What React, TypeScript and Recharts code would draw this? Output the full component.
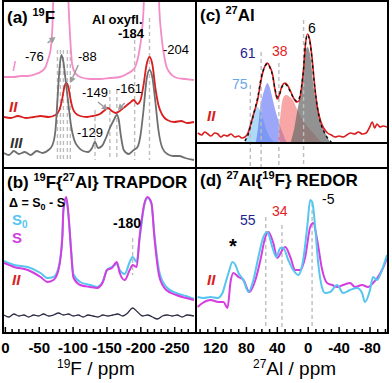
import React from "react";
import { ComposedChart, Line, Area, XAxis, YAxis, ReferenceLine } from "recharts";

const FONT = '"Liberation Sans", Arial, sans-serif';

// ---------- (a) 19F MAS : [ppm, intensity] ----------
const specAI = [
  [2, 91], [-12.6, 91], [-22.8, 92], [-33, 92], [-44.8, 94], [-52, 96], [-59.4, 101], [-63.7, 110],
  [-66.7, 118], [-69.6, 143], [-71, 175], [-74, 260], [-81.3, 320], [-88.6, 260], [-93, 168],
  [-95.9, 128], [-98.8, 103], [-103.2, 95], [-110.5, 91], [-125.1, 89], [-139.7, 89], [-154.3, 90],
  [-168.9, 91], [-179.2, 94], [-186.5, 97], [-192.3, 102], [-196.7, 113], [-201.1, 133], [-204, 158],
  [-207, 220], [-215.7, 280], [-224.5, 220], [-227.4, 158], [-230.3, 133], [-234.7, 111], [-240, 98],
  [-253.7, 90], [-265.4, 89], [-278.5, 88],
];
const specAII = [
  [2, 51], [-8.2, 50], [-18.5, 52], [-30.1, 50], [-41.8, 51], [-52, 52], [-63.7, 51], [-74, 53],
  [-79.8, 58], [-84.2, 70], [-87.1, 81], [-90, 85], [-93, 81], [-95.9, 70], [-98.8, 61], [-103.2, 55],
  [-110.5, 52], [-120.7, 51], [-129.5, 52], [-139.7, 54], [-147, 58], [-151.4, 60], [-157.2, 57],
  [-163.1, 55], [-168.9, 57], [-176.2, 61], [-183.6, 65], [-189.4, 68], [-195.2, 64], [-199.6, 68],
  [-204, 83], [-208.4, 103], [-212.8, 111], [-217.2, 103], [-221.5, 80], [-226, 63], [-231.8, 53],
  [-239.1, 48], [-249.3, 46], [-259.5, 47], [-268.3, 45], [-278.5, 46],
];
const specAIII = [
  [2, 15], [-5.3, 13], [-12.6, 17], [-19.9, 14], [-28.7, 16], [-37.4, 13], [-46.2, 17], [-55, 15],
  [-63.7, 18], [-69.6, 23], [-74, 38], [-76.9, 68], [-79.8, 98], [-82.7, 113], [-85.7, 106], [-88.6, 90],
  [-91.5, 73], [-94.4, 56], [-97.3, 41], [-101.7, 28], [-107.6, 21], [-115, 17], [-122.2, 16], [-128, 20],
  [-132.4, 26], [-136.8, 20], [-142.6, 22], [-148.5, 30], [-154.3, 40], [-160.2, 48], [-164.6, 53],
  [-167.5, 48], [-170.4, 33], [-174.8, 18], [-182.1, 14], [-189.4, 18], [-195.2, 21], [-199.6, 33],
  [-204, 58], [-208.4, 88], [-212.8, 98], [-217.2, 90], [-221.5, 66], [-226, 38], [-231.8, 20],
  [-239.1, 14], [-247.8, 12], [-256.6, 12], [-265.4, 10], [-278.5, 8],
];
// [ppm, top, bottom]
const dashA = [
  [-76.9, 118, 8], [-81.3, 118, 8], [-85.7, 118, 8], [-91.5, 118, 8], [-95.9, 118, 8],
  [-132.4, 58, 8], [-154.3, 78, 8], [-164.6, 78, 8], [-190.9, 128, 8], [-212.8, 150, 8],
];
// [ppm1, v1, ppm2, v2]
const arrowsA = [
  [-62.3, 125, -74, 131],
  [-107.6, 103, -95.9, 85],
  [-136.8, 66, -151.4, 58],
  [-176.2, 65, -166, 58],
];

// ---------- (b) 19F{27Al} TRAPDOR ----------
const specBS0 = [
  [2, 71], [-12.6, 67], [-33, 65], [-52, 59], [-62.3, 54], [-71, 55], [-78.4, 64], [-84.2, 97],
  [-85.7, 122], [-90, 132], [-93, 117], [-97.3, 80], [-100.3, 58], [-110.5, 50], [-125.1, 47],
  [-135.3, 45], [-144.1, 51], [-150, 62], [-157.2, 65], [-164.6, 68], [-168.9, 62], [-176.2, 58],
  [-183.6, 70], [-187.9, 75], [-193.8, 70], [-198.2, 93], [-205.5, 128], [-209.8, 134], [-215.7, 128],
  [-220, 98], [-227.4, 60], [-237.6, 45], [-252.2, 39], [-266.8, 36], [-278.5, 33],
];
const specBS = [
  [2, 69], [-12.6, 65], [-33, 62], [-52, 55], [-62.3, 50], [-71, 52], [-78.4, 62], [-84.2, 95],
  [-85.7, 122], [-90, 135], [-93, 119], [-97.3, 79], [-100.3, 55], [-110.5, 47], [-125.1, 45],
  [-135.3, 44], [-144.1, 50], [-150, 62], [-157.2, 64], [-164.6, 70], [-168.9, 59], [-176.2, 52],
  [-183.6, 62], [-187.9, 67], [-193.8, 65], [-198.2, 95], [-205.5, 129], [-209.8, 135], [-215.7, 129],
  [-220, 95], [-227.4, 55], [-237.6, 42], [-252.2, 37], [-266.8, 34], [-278.5, 32],
];
const specBDiff = [
  [2, 17], [-5.3, 15], [-12.6, 18], [-19.9, 16], [-27.2, 17], [-34.5, 15], [-41.8, 17], [-49.1, 16],
  [-56.4, 18], [-63.7, 16], [-71, 17], [-78.4, 19], [-85.7, 17], [-93, 18], [-100.3, 16], [-107.6, 17],
  [-114.9, 15], [-122.2, 17], [-129.5, 16], [-136.8, 15], [-144.1, 17], [-151.4, 16], [-158.7, 17],
  [-166, 18], [-173.3, 16], [-180.6, 19], [-187.9, 24], [-195.2, 20], [-202.5, 16], [-209.8, 17],
  [-217.2, 15], [-224.5, 13], [-231.8, 16], [-239.1, 17], [-246.4, 16], [-253.7, 17], [-261, 15],
  [-268.3, 17], [-278.5, 16],
];
const dashB = [[-187.9, 94, 57]];

// ---------- (c) 27Al MAS ----------
const specC = [
  [143, 35], [138, 33], [134, 36], [130, 34], [126, 32], [121, 35], [117, 34], [113, 31], [109, 33],
  [105, 32], [100, 34], [95, 31], [90, 32], [86, 30], [82, 31], [78, 35], [74, 45], [71, 53], [68, 61],
  [65, 70], [62, 84], [59, 95], [56, 102], [53, 105], [50, 102], [46, 93], [43, 78], [40, 69], [37, 74],
  [34, 82], [30, 85], [27, 83], [23, 77], [19, 70], [15, 66], [12, 67], [9, 78], [6, 98], [4, 120],
  [1, 134], [-2, 128], [-5, 110], [-8, 85], [-12, 60], [-16, 47], [-20, 40], [-25, 35], [-30, 33],
  [-35, 31], [-40, 32], [-45, 31], [-50, 33], [-55, 35], [-60, 34], [-65, 36], [-70, 34], [-75, 35],
  [-79, 40], [-83, 46], [-86, 40], [-89, 44], [-93, 41], [-97, 42], [-102, 41],
];
const fitC = [
  [82, 27], [78, 33], [74, 44], [71, 53], [68, 62], [65, 72], [62, 86], [59, 96], [56, 102], [53, 104],
  [50, 101], [46, 92], [43, 79], [40, 71], [37, 74], [34, 81], [30, 84], [27, 82], [23, 76], [19, 70],
  [15, 67], [12, 69], [9, 80], [6, 100], [4, 121], [1, 133], [-2, 127], [-5, 108], [-8, 84], [-12, 60],
  [-16, 45], [-20, 37], [-25, 30], [-30, 26],
];
const comp75 = [[82, 25], [78, 36], [75, 46], [72, 54], [69, 59], [66, 61], [62, 57], [58, 48], [54, 38], [50, 31], [45, 27], [40, 25]];
const comp61 = [[68, 25], [65, 40], [62, 62], [59, 72], [56, 80], [53, 85], [50, 81], [47, 72], [44, 62], [40, 51], [36, 41], [33, 35], [30, 29], [27, 25]];
const comp38 = [[39, 25], [37, 45], [35, 60], [32, 71], [28, 73], [24, 71], [20, 68], [14, 58], [7, 48], [-3, 38], [-12, 30], [-18, 25]];
const comp6 = [[23, 25], [18, 40], [14, 58], [10, 75], [8, 91], [4, 115], [1, 121], [-3, 111], [-7, 81], [-13, 58], [-19, 41], [-24, 32], [-28, 26]];
const baseC = 25;
const dashC = [[75, 83, 1], [61, 116, 1], [38, 105, 1], [6, 148, 1]];

// ---------- (d) 27Al{19F} REDOR ----------
const specDS0 = [
  [143.2, 35], [135.5, 34], [126.5, 35], [117.4, 34], [111, 39], [107.1, 49], [103.2, 59], [98.1, 70],
  [94.2, 67], [90.3, 59], [83.9, 52], [77.4, 40], [71, 52], [64.5, 75], [58.1, 95], [52.9, 100],
  [46.5, 85], [41.3, 75], [36.1, 84], [32.3, 84], [25.8, 72], [19.4, 62], [12.9, 57], [6.5, 72],
  [1.3, 105], [-2.6, 132], [-5.2, 130], [-9, 105], [-12.9, 69], [-18.1, 44], [-21.9, 39], [-28.4, 40],
  [-37.4, 47], [-45.2, 39], [-54.2, 42], [-63.2, 44], [-69.7, 39], [-73.5, 30], [-80, 42], [-83.9, 55],
  [-89, 52], [-95.5, 62], [-101.9, 77],
];
const specDS = [
  [143.2, 25], [136.8, 29], [126.5, 32], [116.1, 30], [109.7, 30], [104.5, 24], [100.6, 50], [96.8, 59],
  [90.3, 55], [83.9, 52], [76.1, 40], [68.4, 52], [61.9, 72], [55.5, 95], [51.6, 100], [45.2, 89],
  [40, 74], [33.5, 82], [29.7, 85], [23.2, 75], [16.8, 62], [10.3, 62], [3.9, 75], [-2.6, 105],
  [-6.5, 109], [-11.6, 92], [-18.1, 62], [-24.5, 49], [-31, 47], [-37.4, 45], [-45.2, 47], [-54.2, 49],
  [-60.6, 45], [-69.7, 47], [-77.4, 45], [-83.9, 49], [-90.3, 55], [-96.8, 64], [-101.9, 74],
];
const dashD = [[55, 115, 5], [34, 107, 5], [-5, 129, 5]];

// ---------- axes ----------
const ticksF = [0, -10, -20, -30, -40, -50, -60, -70, -80, -90, -100, -110, -120, -130, -140, -150, -160, -170, -180, -190, -200, -210, -220, -230, -240, -250, -260, -270];
const majorF = [0, -50, -100, -150, -200, -250];
const ticksAl = [140, 130, 120, 110, 100, 90, 80, 70, 60, 50, 40, 30, 20, 10, 0, -10, -20, -30, -40, -50, -60, -70, -80, -90, -100];
const majorAl = [120, 80, 40, 0, -40, -80];
const domainF = [-280, 2];
const domainAl = [-102, 144];

const pts = (a: number[][]) => a.map(([ppm, v]) => ({ ppm, v }));

const makeTick = (majors: number[], label: boolean) => (props: any) => {
  const { x, y, payload } = props;
  const major = majors.includes(payload.value);
  return (
    <g>
      <line x1={x} x2={x} y1={y} y2={y - (major ? 5 : 3)} stroke="#000" strokeWidth={1.5} />
      {label && major && (
        <text x={x} y={y + 21} textAnchor="middle" fontSize={15} fontWeight="bold" fontFamily={FONT} fill="#000">
          {payload.value}
        </text>
      )}
    </g>
  );
};

const Arrow = (p: any) => {
  const { x1, y1, x2, y2 } = p;
  const a = Math.atan2(y2 - y1, x2 - x1);
  const L = 6, W = 3.2;
  const bx = x2 - L * Math.cos(a), by = y2 - L * Math.sin(a);
  const poly = `${x2},${y2} ${bx - W * Math.sin(a)},${by + W * Math.cos(a)} ${bx + W * Math.sin(a)},${by - W * Math.cos(a)}`;
  return (
    <g>
      <line x1={x1} y1={y1} x2={bx} y2={by} stroke="#9c9c9c" strokeWidth={1.5} />
      <polygon points={poly} fill="#9c9c9c" />
    </g>
  );
};

const dashLines = (list: number[][]) =>
  list.map(([ppm, top, bot], i) => (
    <ReferenceLine key={`d${i}`} segment={[{ x: ppm, y: top }, { x: ppm, y: bot }]} stroke="#bdbdbd" strokeWidth={1.4} strokeDasharray="4 3" />
  ));

const line = (data: number[][], color: string, w: number, key: string, dash?: string) => (
  <Line key={key} data={pts(data)} dataKey="v" type="monotone" stroke={color} strokeWidth={w} strokeDasharray={dash} dot={false} isAnimationActive={false} />
);

const area = (data: number[][], color: string, op: number, key: string) => (
  <Area key={key} data={pts(data)} dataKey="v" type="monotone" baseValue={baseC} stroke="none" fill={color} fillOpacity={op} isAnimationActive={false} />
);

const Frame = ({ left, top, width, height }: any) => (
  <div style={{ position: "absolute", left, top, width, height, boxSizing: "border-box", border: "2px solid #000", pointerEvents: "none" }} />
);

const txt = { fontFamily: FONT } as const;

export default function App() {
  return (
    <div style={{ position: "absolute", left: 0, top: 0, width: 392, height: 383, background: "#fff", overflow: "hidden" }}>
      {/* (a) */}
      <div style={{ position: "absolute", left: 0, top: 2 }}>
        <ComposedChart width={195} height={165} margin={{ top: 0, right: 0, bottom: 0, left: 4 }}>
          <XAxis type="number" dataKey="ppm" domain={domainF} reversed allowDataOverflow ticks={ticksF} interval={0}
            height={0} tickSize={0} tickMargin={0} axisLine={false} tickLine={false} tick={makeTick(majorF, false)} />
          <YAxis hide type="number" domain={[1, 166]} allowDataOverflow />
          {dashLines(dashA)}
          {line(specAI, "#f48cc8", 1.8, "aI")}
          {line(specAII, "#d81e1e", 1.8, "aII")}
          {line(specAIII, "#6f6f6f", 1.8, "aIII")}
          {arrowsA.map(([x1, y1, x2, y2], i) => (
            <ReferenceLine key={`ar${i}`} segment={[{ x: x1, y: y1 }, { x: x2, y: y2 }]} shape={Arrow} />
          ))}
        </ComposedChart>
      </div>
      {/* (b) */}
      <div style={{ position: "absolute", left: 0, top: 169 }}>
        <ComposedChart width={195} height={189} margin={{ top: 0, right: 0, bottom: 0, left: 4 }}>
          <XAxis type="number" dataKey="ppm" domain={domainF} reversed allowDataOverflow ticks={ticksF} interval={0}
            height={26} tickSize={0} tickMargin={0} axisLine={false} tickLine={false} tick={makeTick(majorF, true)} />
          <YAxis hide type="number" domain={[0, 163]} allowDataOverflow />
          {dashLines(dashB)}
          {line(specBS0, "#56c5f0", 2, "bS0")}
          {line(specBS, "#d43ee0", 2, "bS")}
          {line(specBDiff, "#2a2a44", 1.3, "bD")}
        </ComposedChart>
      </div>
      {/* (c) */}
      <div style={{ position: "absolute", left: 197, top: 2 }}>
        <ComposedChart width={190} height={165} margin={{ top: 0, right: 0, bottom: 0, left: 0 }}>
          <XAxis type="number" dataKey="ppm" domain={domainAl} reversed allowDataOverflow ticks={ticksAl} interval={0}
            height={0} tickSize={0} tickMargin={0} axisLine={false} tickLine={false} tick={makeTick(majorAl, false)} />
          <YAxis hide type="number" domain={[1, 166]} allowDataOverflow />
          {dashLines(dashC)}
          {area(comp75, "#9fd4f5", 0.85, "c75")}
          {area(comp61, "#5c6cf5", 0.6, "c61")}
          {area(comp38, "#f56b6b", 0.6, "c38")}
          {area(comp6, "#6e6e6e", 0.75, "c6")}
          {line(specC, "#d81e1e", 1.6, "cII")}
          {line(fitC, "#111", 1.4, "cfit", "3 3")}
          <ReferenceLine y={baseC} stroke="#000" strokeWidth={2} />
        </ComposedChart>
      </div>
      {/* (d) */}
      <div style={{ position: "absolute", left: 197, top: 169 }}>
        <ComposedChart width={190} height={189} margin={{ top: 0, right: 0, bottom: 0, left: 0 }}>
          <XAxis type="number" dataKey="ppm" domain={domainAl} reversed allowDataOverflow ticks={ticksAl} interval={0}
            height={26} tickSize={0} tickMargin={0} axisLine={false} tickLine={false} tick={makeTick(majorAl, true)} />
          <YAxis hide type="number" domain={[0, 163]} allowDataOverflow />
          {dashLines(dashD)}
          {line(specDS, "#d43ee0", 2, "dS")}
          {line(specDS0, "#56c5f0", 2, "dS0")}
        </ComposedChart>
      </div>

      <Frame left={2} top={0} width={195} height={169} />
      <Frame left={2} top={167} width={195} height={167} />
      <Frame left={195} top={0} width={194} height={169} />
      <Frame left={195} top={167} width={194} height={167} />

      <svg width={392} height={383} style={{ position: "absolute", left: 0, top: 0, pointerEvents: "none" }}>
        <g style={txt}>
          {/* (a) */}
          <text x={7} y={23} fontSize={17} fontWeight="bold">{"(a) "}<tspan fontSize={11} dy={-7}>19</tspan><tspan dy={7}>F</tspan></text>
          <text x={92} y={24} fontSize={13} fontWeight="bold">Al oxyfl.</text>
          <text x={118} y={38} fontSize={13} fontWeight="bold">-184</text>
          <text x={163} y={54} fontSize={13}>-204</text>
          <text x={25} y={61} fontSize={13}>-76</text>
          <text x={78} y={61} fontSize={13}>-88</text>
          <text x={82} y={97} fontSize={13}>-149</text>
          <text x={116} y={93} fontSize={13}>-161</text>
          <text x={77} y={137} fontSize={13}>-129</text>
          <text x={12} y={71} fontSize={15} fontStyle="italic" fill="#f48cc8">I</text>
          <text x={9} y={112} fontSize={15} fontStyle="italic" fontWeight="bold" fill="#d81e1e">II</text>
          <text x={10} y={148} fontSize={15} fontStyle="italic" fontWeight="bold" fill="#333">III</text>
          {/* (b) */}
          <text x={7} y={188} fontSize={17} fontWeight="bold">{"(b) "}<tspan fontSize={11} dy={-7}>19</tspan><tspan dy={7}>{"F{"}</tspan><tspan fontSize={11} dy={-7}>27</tspan><tspan dy={7}>{"Al} TRAPDOR"}</tspan></text>
          <text x={9} y={207} fontSize={12.5} fontWeight="bold">{"Δ = S"}<tspan fontSize={9} dy={3}>0</tspan><tspan dy={-3}>{" - S"}</tspan></text>
          <text x={12} y={225} fontSize={15} fontWeight="bold" fill="#56c5f0">S<tspan fontSize={10} dy={3}>0</tspan></text>
          <text x={12} y={243} fontSize={15} fontWeight="bold" fill="#d43ee0">S</text>
          <text x={12} y={285} fontSize={15} fontStyle="italic" fontWeight="bold" fill="#d81e1e">II</text>
          <text x={113} y={228} fontSize={14} fontWeight="bold">-180</text>
          <text x={57} y={375} fontSize={19}><tspan fontSize={12} dy={-7}>19</tspan><tspan dy={7}>F / ppm</tspan></text>
          {/* (c) */}
          <text x={200} y={21} fontSize={17} fontWeight="bold">{"(c) "}<tspan fontSize={11} dy={-7}>27</tspan><tspan dy={7}>Al</tspan></text>
          <text x={240} y={58} fontSize={14} fill="#23238e">61</text>
          <text x={272} y={56} fontSize={14} fill="#e52222">38</text>
          <text x={232} y={89} fontSize={14} fill="#6aa6ea">75</text>
          <text x={308} y={33} fontSize={14}>6</text>
          <text x={207} y={121} fontSize={15} fontStyle="italic" fontWeight="bold" fill="#d81e1e">II</text>
          {/* (d) */}
          <text x={200} y={186} fontSize={17} fontWeight="bold">{"(d) "}<tspan fontSize={11} dy={-7}>27</tspan><tspan dy={7}>{"Al{"}</tspan><tspan fontSize={11} dy={-7}>19</tspan><tspan dy={7}>{"F} REDOR"}</tspan></text>
          <text x={240} y={225} fontSize={14} fill="#23238e">55</text>
          <text x={272} y={216} fontSize={14} fill="#e52222">34</text>
          <text x={322} y={204} fontSize={14}>-5</text>
          <text x={229} y={253} fontSize={20} fontWeight="bold">*</text>
          <text x={207} y={285} fontSize={15} fontStyle="italic" fontWeight="bold" fill="#d81e1e">II</text>
          <text x={253} y={375} fontSize={19}><tspan fontSize={12} dy={-7}>27</tspan><tspan dy={7}>Al / ppm</tspan></text>
        </g>
      </svg>
    </div>
  );
}
